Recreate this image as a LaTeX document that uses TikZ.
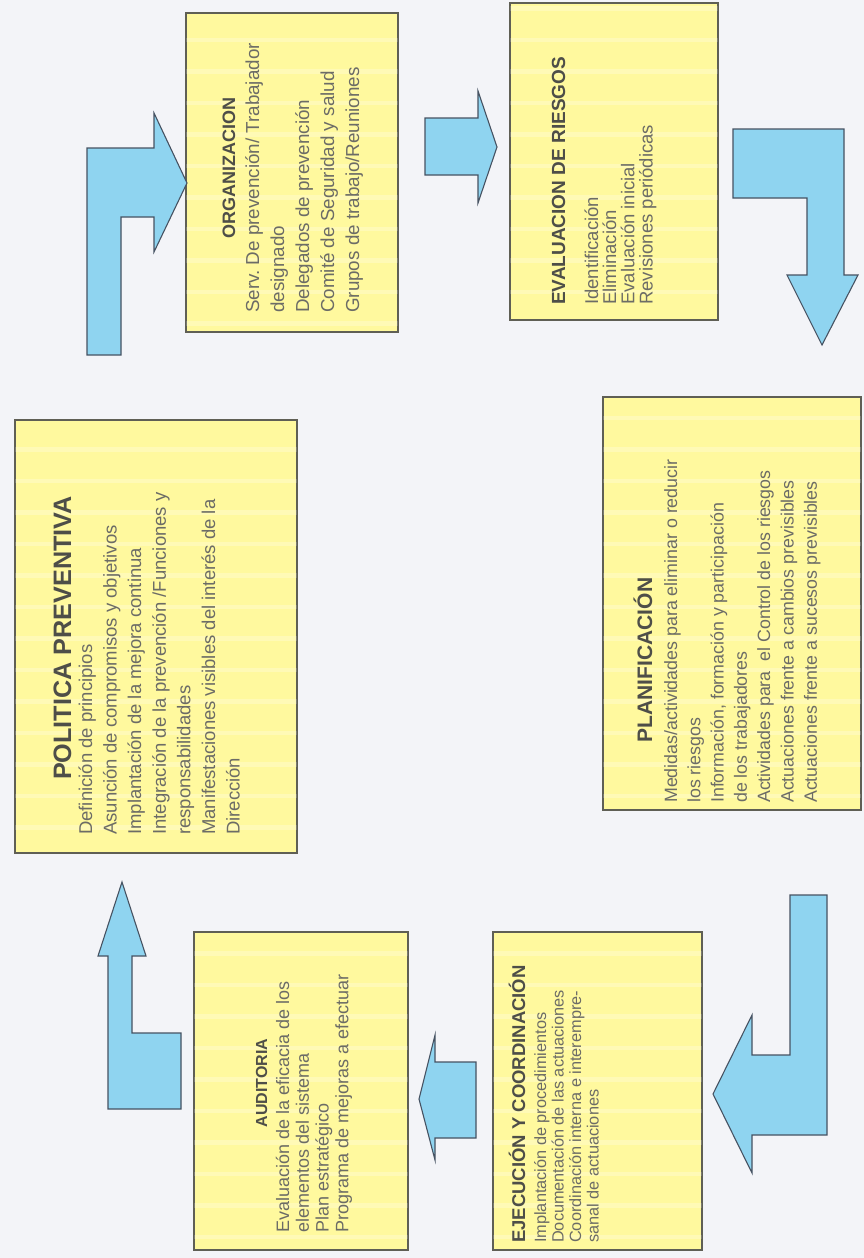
\documentclass[tikz,border=0pt]{standalone}
\usepackage{fontspec}
\setmainfont{Liberation Sans}
\definecolor{bgcol}{RGB}{243,244,248}
\definecolor{boxfill}{RGB}{255,249,158}
\definecolor{boxline}{RGB}{95,95,85}
\definecolor{arrowfill}{RGB}{143,212,240}
\definecolor{arrowline}{RGB}{70,82,98}
\definecolor{txtcol}{RGB}{108,108,102}
\definecolor{ttlcol}{RGB}{78,78,72}
\tikzset{
  ybox/.style={draw=boxline, line width=1.2pt, fill=boxfill, inner sep=0pt},
  barrow/.style={draw=arrowline, line width=1.1pt, fill=arrowfill, line join=miter},
  ttl/.style={rotate=90, inner sep=0pt, text=ttlcol},
  body/.style={rotate=90, inner sep=0pt, anchor=base west, align=left, text=txtcol},
}
\newcommand\ystripes[1]{%
  \begin{scope}
    \clip ([shift={(1,1)}]#1.north west) rectangle ([shift={(-1,-1)}]#1.south east);
    \foreach \k in {0,...,40} {\fill[white,opacity=0.25] (0,{6+31.5*\k}) rectangle (864,{10.5+31.5*\k});}
  \end{scope}}
\begin{document}
\begin{tikzpicture}[x=1pt,y=-1pt]
\fill[bgcol] (0,0) rectangle (864,1258);
\useasboundingbox (0,0) rectangle (864,1258);

% boxes
\node[ybox, minimum width=282pt, minimum height=433pt] (pol) at (156,636.5) {};
\node[ybox, minimum width=212pt, minimum height=319pt] (org) at (292,172.5) {};
\node[ybox, minimum width=208pt, minimum height=317pt] (eva) at (614,161.5) {};
\node[ybox, minimum width=258pt, minimum height=413pt] (pla) at (732,603.5) {};
\node[ybox, minimum width=209pt, minimum height=318pt] (eje) at (597.5,1091) {};
\node[ybox, minimum width=214pt, minimum height=318pt] (aud) at (301,1091) {};
\ystripes{pol}\ystripes{org}\ystripes{eva}\ystripes{pla}\ystripes{eje}\ystripes{aud}

% block arrows
\draw[barrow] (87,355) -- (121,355) -- (121,217) -- (154,217) -- (154,252) -- (187,183) -- (154,113) -- (154,148) -- (87,148) -- cycle;
\draw[barrow] (425,118) -- (478,118) -- (478,91) -- (497,147) -- (478,203) -- (478,175) -- (425,175) -- cycle;
\draw[barrow] (733,129) -- (844,129) -- (844,275) -- (858,275) -- (822,345) -- (787,275) -- (807,275) -- (807,198) -- (733,198) -- cycle;
\draw[barrow] (790,895) -- (827,895) -- (827,1135) -- (752,1135) -- (752,1173) -- (713,1094) -- (752,1015) -- (752,1055) -- (790,1055) -- cycle;
\draw[barrow] (476,1062) -- (435,1062) -- (435,1035) -- (419,1099) -- (435,1160) -- (435,1138) -- (476,1138) -- cycle;
\draw[barrow] (108,1109) -- (181,1109) -- (181,1033) -- (132,1033) -- (132,956) -- (146,956) -- (122,882) -- (98,956) -- (108,956) -- cycle;

% POLITICA PREVENTIVA (body anchored at the baseline of its last line)
\node[ttl, anchor=base, font=\bfseries\fontsize{25.2}{29}\selectfont] (polt) at (71,638) {POLITICA PREVENTIVA};
\node[body, font=\fontsize{18.5}{24.6}\selectfont] (polb) at (239.6,835) {Definición de principios\\Asunción de compromisos y objetivos\\Implantación de la mejora continua\\Integración de la prevención /Funciones y\\responsabilidades\\Manifestaciones visibles del interés de la\\Dirección};

% ORGANIZACION
\node[ttl, anchor=base, font=\bfseries\fontsize{18}{22}\selectfont] (orgt) at (235,168) {ORGANIZACION};
\node[body, font=\fontsize{18.8}{25}\selectfont] (orgb) at (359,313) {Serv.\ De prevención/ Trabajador\\designado\\Delegados de prevención\\Comité de Seguridad y salud\\Grupos de trabajo/Reuniones};

% EVALUACION DE RIESGOS
\node[ttl, anchor=base west, font=\bfseries\fontsize{19}{22}\selectfont] (evat) at (565,305) {EVALUACION DE RIESGOS};
\node[body, font=\fontsize{18.5}{18.2}\selectfont] (evab) at (652.6,305) {Identificación\\Eliminación\\Evaluación inicial\\Revisiones periódicas};

% PLANIFICACION
\node[ttl, anchor=base, font=\bfseries\fontsize{21}{25}\selectfont] (plat) at (652,660) {PLANIFICACIÓN};
\node[body, font=\fontsize{17.8}{23.3}\selectfont] (plab) at (816.8,803) {Medidas/actividades para eliminar o reducir\\los riesgos\\Información, formación y participación\\de los trabajadores\\Actividades para~ el Control de los riesgos\\Actuaciones frente a cambios previsibles\\Actuaciones frente a sucesos previsibles};

% EJECUCION Y COORDINACION
\node[ttl, anchor=base west, font=\bfseries\fontsize{18.5}{22}\selectfont] (ejet) at (525,1243) {EJECUCIÓN Y COORDINACIÓN};
\node[body, font=\fontsize{16.3}{17.5}\selectfont] (ejeb) at (598.5,1243) {Implantación de procedimientos\\Documentación de las actuaciones\\Coordinación interna e interempre-\\sanal de actuaciones};

% AUDITORIA
\node[ttl, anchor=base, font=\bfseries\fontsize{16}{20}\selectfont] (audt) at (267,1083) {AUDITORIA};
\node[body, font=\fontsize{18}{19.8}\selectfont] (audb) at (348.4,1233) {Evaluación de la eficacia de los\\elementos del sistema\\Plan estratégico\\Programa de mejoras a efectuar};
\end{tikzpicture}
\end{document}
